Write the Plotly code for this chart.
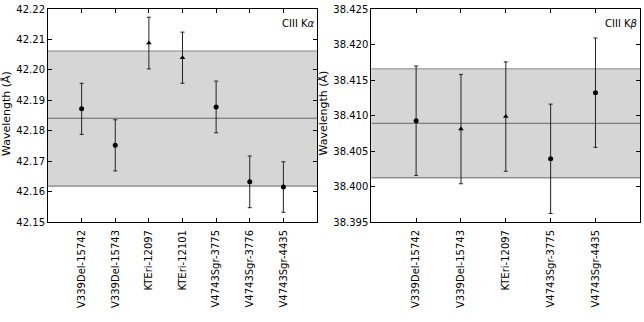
import plotly.graph_objects as go

# Left panel: CIII K-alpha
cats_a = ["V339Del-15742", "V339Del-15743", "KTEri-12097", "KTEri-12101",
          "V4743Sgr-3775", "V4743Sgr-3776", "V4743Sgr-4435"]
vals_a = [42.1872, 42.1752, 42.2088, 42.2040, 42.1878, 42.1632, 42.1615]
errs_a = [0.0084, 0.0084, 0.0085, 0.0084, 0.0085, 0.0085, 0.0083]
sym_a = ["circle", "circle", "triangle-up", "triangle-up", "circle", "circle", "circle"]
mean_a, lo_a, hi_a = 42.1841, 42.1618, 42.2062

# Right panel: CIII K-beta
cats_b = ["V339Del-15742", "V339Del-15743", "KTEri-12097", "V4743Sgr-3775", "V4743Sgr-4435"]
vals_b = [38.40927, 38.40809, 38.40985, 38.40390, 38.41322]
errs_b = [0.0077, 0.0077, 0.0077, 0.0077, 0.0077]
sym_b = ["circle", "triangle-up", "triangle-up", "circle", "circle"]
mean_b, lo_b, hi_b = 38.4089, 38.40122, 38.41657

FONT = "DejaVu Sans"
fig = go.Figure()

def add_panel(cats, vals, errs, syms, xa, ya):
    fig.add_trace(go.Scatter(
        x=list(range(len(cats))), y=vals, mode="markers",
        marker=dict(symbol=syms, size=5, color="black"),
        error_y=dict(type="data", array=errs, visible=True, color="#222", thickness=1, width=2),
        xaxis=xa, yaxis=ya, showlegend=False))

add_panel(cats_a, vals_a, errs_a, sym_a, "x", "y")
add_panel(cats_b, vals_b, errs_b, sym_b, "x2", "y2")

def band(xref, yref, lo, hi, mean):
    fig.add_shape(type="rect", xref=xref + " domain", yref=yref, x0=0, x1=1, y0=lo, y1=hi,
                  fillcolor="#d6d6d6", line=dict(width=0), layer="below")
    for v, c in [(lo, "#666"), (hi, "#888"), (mean, "#666")]:
        fig.add_shape(type="line", xref=xref + " domain", yref=yref, x0=0, x1=1, y0=v, y1=v,
                      line=dict(color=c, width=1), layer="below")

band("x", "y", lo_a, hi_a, mean_a)
band("x2", "y2", lo_b, hi_b, mean_b)

ydom = [(322 - 222) / 322, (322 - 9) / 322]
axis_common = dict(showline=True, linecolor="black", linewidth=1, mirror="allticks",
                   ticks="inside", ticklen=4, tickcolor="black", showgrid=False, zeroline=False,
                   automargin=False,
                   tickfont=dict(family=FONT, size=10, color="black"))

fig.update_layout(
    width=644, height=322, margin=dict(l=0, r=0, t=0, b=0),
    paper_bgcolor="white", plot_bgcolor="white",
    font=dict(family=FONT, size=10, color="black"),
    xaxis=dict(domain=[48 / 644, 317 / 644], range=[-1, len(cats_a)],
               tickvals=list(range(len(cats_a))), ticktext=cats_a, tickangle=-90,
               ticklabelstandoff=3, anchor="y", **axis_common),
    yaxis=dict(domain=ydom, range=[42.15, 42.22], dtick=0.01, tickformat=".2f",
               anchor="x", **axis_common),
    xaxis2=dict(domain=[371.3 / 644, 640.3 / 644], range=[-1, len(cats_b)],
                tickvals=list(range(len(cats_b))), ticktext=cats_b, tickangle=-90,
                ticklabelstandoff=3, anchor="y2", **axis_common),
    yaxis2=dict(domain=ydom, range=[38.395, 38.425], dtick=0.005, tickformat=".3f",
                anchor="x2", **axis_common),
)

for xpos, txt in [(6.5, "Wavelength (Å)"), (323, "Wavelength (Å)")]:
    fig.add_annotation(x=xpos / 644, y=(322 - 113.5) / 322, xref="paper", yref="paper",
                       text=txt, textangle=-90, showarrow=False,
                       xanchor="center", yanchor="middle",
                       font=dict(family=FONT, size=11, color="black"))

for xr, yr, txt in [("x", "y", "CIII K<i>α</i>"), ("x2", "y2", "CIII K<i>β</i>")]:
    fig.add_annotation(x=1.0, y=0.934, xref=xr + " domain", yref=yr + " domain", text=txt,
                       showarrow=False, xanchor="right", yanchor="middle", xshift=-1,
                       borderpad=0,
                       font=dict(family=FONT, size=10, color="black"))

fig.write_html("out.html", config={"displayModeBar": False},
               post_script="document.body.style.margin='0';")
